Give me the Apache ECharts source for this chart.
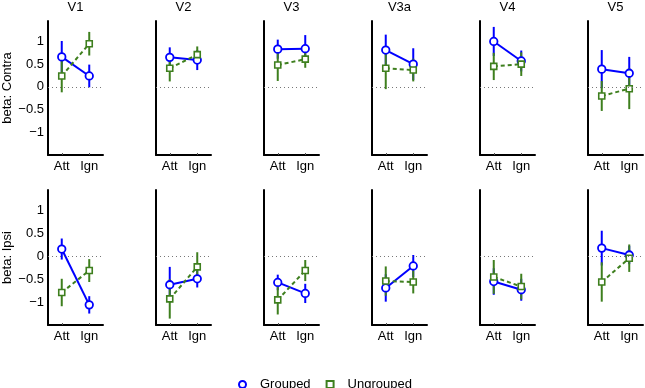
<!DOCTYPE html>
<html>
<head>
<meta charset="utf-8">
<script src="https://cdn.jsdelivr.net/npm/echarts@6/dist/echarts.min.js"></script>
<style>
  html, body { margin: 0; padding: 0; background: #fff; }
  #chart { width: 645px; height: 388px; }
</style>
</head>
<body>
<div id="chart"></div>
<script>
const regions = ['V1', 'V2', 'V3', 'V3a', 'V4', 'V5'];
const conditions = ['Att', 'Ign'];
const rowLabels = ['beta: Contra', 'beta: Ipsi'];
const yTicks = [-1, -0.5, 0, 0.5, 1];

// [Att, Ign] per region, top row (contra)
const contraGrouped = [[0.66, 0.24], [0.65, 0.59], [0.83, 0.84], [0.81, 0.50], [1.00, 0.57], [0.39, 0.30]];
const contraGroupedErr = [[0.35, 0.25], [0.22, 0.22], [0.21, 0.30], [0.34, 0.35], [0.32, 0.23], [0.42, 0.36]];
const contraUngrouped = [[0.24, 0.95], [0.41, 0.71], [0.48, 0.61], [0.41, 0.37], [0.45, 0.50], [-0.20, -0.04]];
const contraUngroupedErr = [[0.36, 0.26], [0.29, 0.18], [0.35, 0.19], [0.46, 0.25], [0.30, 0.26], [0.33, 0.45]];

// bottom row (ipsi)
const ipsiGrouped = [[0.16, -1.06], [-0.62, -0.49], [-0.57, -0.81], [-0.69, -0.21], [-0.55, -0.73], [0.18, 0.03]];
const ipsiGroupedErr = [[0.23, 0.19], [0.39, 0.19], [0.17, 0.21], [0.30, 0.24], [0.29, 0.24], [0.38, 0.20]];
const ipsiUngrouped = [[-0.79, -0.31], [-0.93, -0.23], [-0.95, -0.31], [-0.54, -0.56], [-0.45, -0.66], [-0.56, -0.04]];
const ipsiUngroupedErr = [[0.30, 0.25], [0.43, 0.32], [0.32, 0.23], [0.32, 0.25], [0.37, 0.28], [0.43, 0.30]];

const BLUE = '#0000ff';
const GREEN = '#3e7f1e';
const FONT = 'Liberation Sans';

const rows = [
  { g: contraGrouped, ge: contraGroupedErr, u: contraUngrouped, ue: contraUngroupedErr, top: 21, height: 134 },
  { g: ipsiGrouped, ge: ipsiGroupedErr, u: ipsiUngrouped, ue: ipsiUngroupedErr, top: 190, height: 135 }
];

const grids = [], xAxes = [], yAxes = [], series = [], titles = [];

function errData(means, errs) {
  return means.map((m, i) => [i, m - errs[i], m + errs[i]]);
}

function errSeries(name, color, data, idx, withZero) {
  const s = {
    name: name,
    type: 'custom',
    xAxisIndex: idx,
    yAxisIndex: idx,
    encode: { x: 0, y: [1, 2] },
    data: data,
    renderItem: function (params, api) {
      const x = api.value(0);
      const lo = api.coord([x, api.value(1)]);
      const hi = api.coord([x, api.value(2)]);
      return {
        type: 'line',
        shape: { x1: lo[0], y1: lo[1], x2: hi[0], y2: hi[1] },
        style: { stroke: color, lineWidth: 2 }
      };
    }
  };
  if (withZero) {
    // dotted reference line at zero
    s.markLine = {
      silent: true,
      symbol: 'none',
      label: { show: false },
      lineStyle: { color: '#777', type: [1, 3], width: 1.2 },
      data: [{ yAxis: 0 }]
    };
  }
  return s;
}

rows.forEach((row, r) => {
  regions.forEach((reg, c) => {
    const idx = r * 6 + c;
    const left = 48 + c * 108;
    grids.push({ left: left, top: row.top, width: 55, height: row.height });
    xAxes.push({
      gridIndex: idx,
      type: 'category',
      data: conditions,
      boundaryGap: true,
      axisLine: { onZero: false, lineStyle: { color: '#000', width: 2 } },
      axisTick: { show: true, inside: true, alignWithLabel: true, length: 2, lineStyle: { color: '#555', width: 1 } },
      axisLabel: { color: '#000', fontFamily: FONT, fontSize: 13, margin: 5 }
    });
    yAxes.push({
      gridIndex: idx,
      type: 'value',
      min: -1.5,
      max: 1.45,
      interval: 0.5,
      splitLine: { show: false },
      axisTick: { show: false },
      axisLine: { show: true, onZero: false, lineStyle: { color: '#000', width: 2 } },
      axisLabel: {
        show: c === 0,
        color: '#000',
        fontFamily: FONT,
        fontSize: 13,
        margin: 4,
        formatter: function (v) {
          if (!yTicks.some(t => Math.abs(t - v) < 1e-6)) return '';
          return v === 0 ? '0' : String(v).replace('-', '\u2212');
        }
      },
      name: c === 0 ? rowLabels[r] : '',
      nameLocation: 'middle',
      nameGap: 34,
      nameTextStyle: { color: '#000', fontFamily: FONT, fontSize: 13 }
    });
    if (r === 0) {
      titles.push({
        text: reg,
        left: left + 27.5,
        textAlign: 'center',
        top: 1,
        padding: 0,
        textStyle: { color: '#000', fontFamily: FONT, fontSize: 13, fontWeight: 'normal' }
      });
    }

    series.push(errSeries('Grouped', BLUE, errData(row.g[c], row.ge[c]), idx, true));
    series.push({
      name: 'Grouped',
      type: 'line',
      xAxisIndex: idx,
      yAxisIndex: idx,
      data: row.g[c],
      symbol: 'circle',
      symbolSize: 7.5,
      itemStyle: { color: '#fff', borderColor: BLUE, borderWidth: 1.8 },
      lineStyle: { color: BLUE, width: 2 }
    });
    series.push(errSeries('Ungrouped', GREEN, errData(row.u[c], row.ue[c]), idx, false));
    series.push({
      name: 'Ungrouped',
      type: 'line',
      xAxisIndex: idx,
      yAxisIndex: idx,
      data: row.u[c],
      symbol: 'rect',
      symbolSize: 6,
      itemStyle: { color: '#fff', borderColor: GREEN, borderWidth: 1.6 },
      lineStyle: { color: GREEN, width: 2, type: [4, 3] }
    });
  });
});

const chart = echarts.init(document.getElementById('chart'));
chart.setOption({
  animation: false,
  backgroundColor: '#fff',
  title: titles,
  grid: grids,
  xAxis: xAxes,
  yAxis: yAxes,
  legend: {
    left: 233,
    top: 373,
    itemWidth: 7,
    itemHeight: 7,
    itemGap: 15,
    textStyle: { color: '#000', fontFamily: FONT, fontSize: 13, padding: [0, 0, 0, 9] },
    data: [
      { name: 'Grouped', icon: 'circle', itemStyle: { color: '#fff', borderColor: BLUE, borderWidth: 2 } },
      { name: 'Ungrouped', icon: 'rect', itemStyle: { color: '#fff', borderColor: GREEN, borderWidth: 2 } }
    ]
  },
  series: series
});
</script>
</body>
</html>
